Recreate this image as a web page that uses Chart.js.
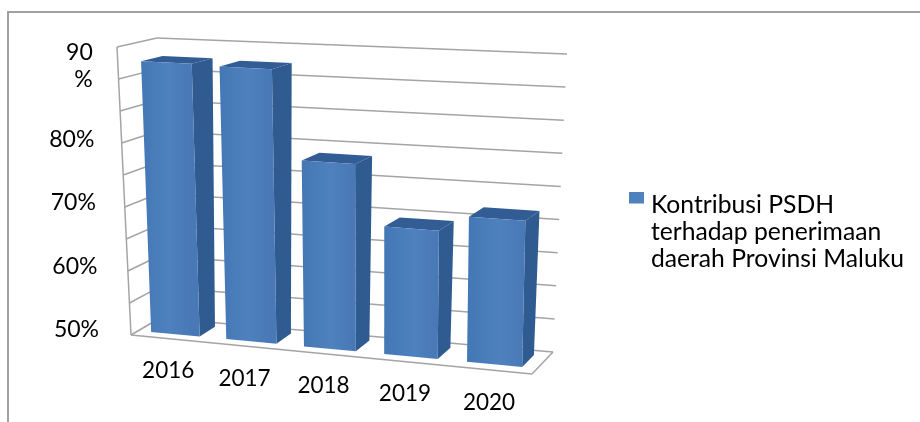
<!DOCTYPE html>
<html>
<head>
<meta charset="utf-8">
<style>
  html, body { margin: 0; padding: 0; background: #fff; }
  canvas { display: block; }
</style>
<script src="https://cdn.jsdelivr.net/npm/chart.js@4/dist/chart.umd.js"></script>
</head>
<body>
<canvas id="chart" width="920" height="422"></canvas>
<script>
// Kontribusi PSDH, percent per year
const years = ['2016', '2017', '2018', '2019', '2020'];
const contribution = [92.5, 92.3, 78.5, 69.3, 71.7];
const seriesLabel = 'Kontribusi PSDH terhadap penerimaan daerah Provinsi Maluku';
const legendLines = ['Kontribusi PSDH', 'terhadap penerimaan', 'daerah Provinsi Maluku'];
const axisMin = 50;
const axisMax = 95;
const axisStep = 5;
const labelledTicks = [50, 60, 70, 80, 90];

const FONT = 'Lato, "Open Sans", sans-serif';
const GRID = '#a4a4a4';
const SERIES_COLOUR = '#4f81bd';

// Corners of the 3D box the plot sits in: front/back, left/right, bottom/top.
const box = {
  flb: [131, 335], frb: [532, 374], blb: [160, 318], brb: [553, 352],
  flt: [117, 47],  frt: [537, 68],  blt: [157, 38],  brt: [567, 54]
};
const mix = (a, b, t) => [a[0] + (b[0] - a[0]) * t, a[1] + (b[1] - a[1]) * t];

// Maps u (across), h (up), d (into the page), all 0..1, onto the canvas.
function project(u, h, d) {
  const w = u - 0.08 * u * (1 - u); // the right side is nearer the viewer
  const bottom = mix(mix(box.flb, box.frb, w), mix(box.blb, box.brb, w), d);
  const top = mix(mix(box.flt, box.frt, w), mix(box.blt, box.brt, w), d);
  return mix(bottom, top, h);
}

function polygon(ctx, pts, fill) {
  ctx.beginPath();
  pts.forEach((p, i) => (i ? ctx.lineTo(p[0], p[1]) : ctx.moveTo(p[0], p[1])));
  ctx.closePath();
  ctx.fillStyle = fill;
  ctx.fill();
}

function segment(ctx, a, b) {
  ctx.beginPath();
  ctx.moveTo(a[0], a[1]);
  ctx.lineTo(b[0], b[1]);
  ctx.stroke();
}

// Legend swatch: wider than the slot the legend reserves so the text sits close,
// and set in the upper part of a taller image so it rides high on the first line.
function legendSwatch() {
  const c = document.createElement('canvas');
  c.width = 15;
  c.height = 25;
  const g = c.getContext('2d');
  g.fillStyle = SERIES_COLOUR;
  g.fillRect(0, 0, 15, 11);
  return c;
}

const DEPTH_FRONT = 0.25;
const DEPTH_BACK = 0.8;

const perspective = {
  id: 'perspective',
  // Tick labels keep the scale's text but follow the slanted box.
  beforeDraw(chart) {
    const { ctx, chartArea: area, scales: { x, y } } = chart;
    const toH = py => (area.bottom - py) / (area.bottom - area.top);
    const toU = px => (px - area.left) / (area.right - area.left);

    x.getLabelItems().forEach((item, i) => {
      if (item.options.placed) return;
      const p = project(toU(x.getPixelForTick(i)), 0, 0);
      item.options.translation = [p[0], p[1] + 19];
      item.options.placed = true;
    });
    y.getLabelItems().forEach(item => {
      if (item.options.placed) return;
      const h = toH(item.options.translation[1]);
      const p = project(0, h / 2, 0);
      item.options.translation = [p[0] - 32, item.options.translation[1] - (Array.isArray(item.label) ? 10 : 0)];
      item.options.placed = true;
    });

    ctx.save();
    ctx.fillStyle = '#fff';
    ctx.fillRect(0, 0, chart.width, chart.height);
    // outer frame
    ctx.strokeStyle = '#a0a0a0';
    ctx.lineWidth = 2;
    ctx.beginPath();
    ctx.moveTo(8, chart.height);
    ctx.lineTo(8, 12);
    ctx.lineTo(chart.width, 12);
    ctx.stroke();
    ctx.restore();
  },
  beforeDatasetsDraw(chart) {
    const { ctx, chartArea: area, scales: { y } } = chart;
    ctx.save();
    ctx.strokeStyle = GRID;
    ctx.lineWidth = 1.5;
    y.ticks.forEach(t => {
      const h = (area.bottom - y.getPixelForValue(t.value)) / (area.bottom - area.top);
      segment(ctx, project(0, h, 0), project(0, h, 1));
      segment(ctx, project(0, h, 1), project(1, h, 1));
    });
    segment(ctx, project(0, 0, 0), project(0, 1, 0));
    segment(ctx, project(0, 0, 0), project(1, 0, 0));
    segment(ctx, project(1, 0, 0), project(1, 0, 1));
    ctx.restore();
  },
  // Bars take their geometry from the bar elements the controller laid out.
  beforeDatasetDraw(chart, args) {
    const { ctx, chartArea: area } = chart;
    const W = area.right - area.left;
    const H = area.bottom - area.top;
    ctx.save();
    args.meta.data.forEach(bar => {
      const u0 = (bar.x - bar.width / 2 - area.left) / W;
      const u1 = (bar.x + bar.width / 2 - area.left) / W;
      const h = (area.bottom - bar.y) / H;
      const a = project(u0, 0, DEPTH_FRONT), b = project(u1, 0, DEPTH_FRONT);
      const c = project(u1, h, DEPTH_FRONT), e = project(u0, h, DEPTH_FRONT);
      const f = project(u1, 0, DEPTH_BACK), g = project(u1, h, DEPTH_BACK);
      const k = project(u0, h, DEPTH_BACK);

      polygon(ctx, [b, f, g, c], '#2f5b91');
      polygon(ctx, [e, c, g, k], '#315c94');
      const face = ctx.createLinearGradient(e[0], 0, c[0], 0);
      face.addColorStop(0, '#4477b5');
      face.addColorStop(0.55, '#4f81bf');
      face.addColorStop(1, '#4878b5');
      polygon(ctx, [a, b, c, e], face);
    });
    ctx.restore();
    return false;
  }
};

new Chart(document.getElementById('chart'), {
  type: 'bar',
  data: {
    labels: years,
    datasets: [{
      label: seriesLabel,
      data: contribution,
      backgroundColor: SERIES_COLOUR,
      categoryPercentage: 0.65,
      barPercentage: 1
    }]
  },
  plugins: [perspective],
  options: {
    responsive: false,
    animation: false,
    layout: { padding: { top: 44, left: 40, right: 6, bottom: 0 } },
    plugins: {
      title: { display: false },
      tooltip: { enabled: false },
      legend: {
        position: 'right',
        align: 'center',
        maxWidth: 320,
        labels: {
          usePointStyle: true,
          pointStyleWidth: 5,
          boxHeight: 11,
          color: '#000',
          font: { family: FONT, size: 24.7, lineHeight: 1.09 },
          generateLabels: () => [{
            text: legendLines,
            pointStyle: legendSwatch(),
            fillStyle: SERIES_COLOUR,
            strokeStyle: SERIES_COLOUR,
            lineWidth: 0,
            datasetIndex: 0
          }]
        }
      }
    },
    scales: {
      x: {
        type: 'category',
        grid: { display: false, drawTicks: false },
        border: { display: false },
        afterFit: s => { s.height = 92; },
        ticks: {
          color: '#000',
          maxRotation: 0,
          font: { family: FONT, size: 22.5 }
        }
      },
      y: {
        type: 'linear',
        min: axisMin,
        max: axisMax,
        grid: { display: false, drawTicks: false },
        border: { display: false },
        afterFit: s => { s.width = 65; },
        ticks: {
          stepSize: axisStep,
          autoSkip: false,
          color: '#000',
          font: { family: FONT, size: 23, lineHeight: 1.17 },
          callback: v => {
            if (!labelledTicks.includes(v)) return '';
            return v === 90 ? ['90', '%'] : v + '%';
          }
        }
      }
    }
  }
});
</script>
</body>
</html>
